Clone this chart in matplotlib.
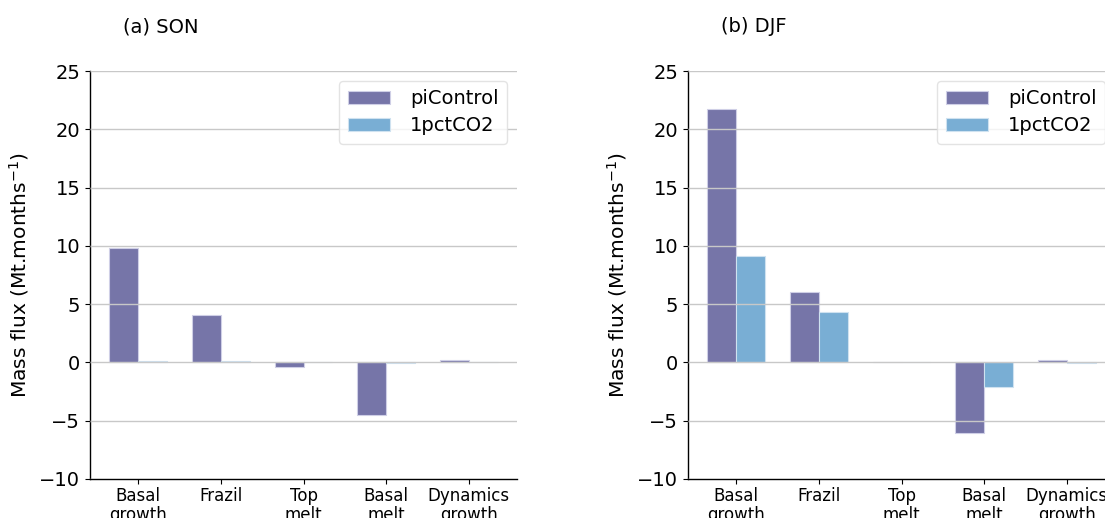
import numpy as np
import matplotlib
matplotlib.use('Agg')
import matplotlib.pyplot as plt

categories = ["Basal\ngrowth", "Frazil", "Top\nmelt", "Basal\nmelt", "Dynamics\ngrowth"]
series_names = ["piControl", "1pctCO2"]

# SON values (Mt.months^-1)
son_picontrol = [9.8, 4.1, -0.35, -4.5, 0.25]
son_1pctco2 = [0.1, 0.15, 0.0, -0.05, 0.0]

# DJF values
djf_picontrol = [21.7, 6.05, 0.0, -6.05, 0.25]
djf_1pctco2 = [9.15, 4.35, 0.0, -2.1, -0.05]

panel_titles = ["(a) SON", "(b) DJF"]
colors = ["#7675a8", "#79aed4"]

fig = plt.figure(figsize=(11.05, 5.18), dpi=100)
W, H = 1105, 518
ax_a = fig.add_axes([90 / W, (H - 479) / H, 427 / W, 408 / H])
ax_b = fig.add_axes([688 / W, (H - 479) / H, 427 / W, 408 / H])

width = 0.35
x = np.arange(len(categories))

for ax, title, pi, co2 in [(ax_a, panel_titles[0], son_picontrol, son_1pctco2),
                           (ax_b, panel_titles[1], djf_picontrol, djf_1pctco2)]:
    ax.bar(x - width / 2, pi, width, color=colors[0], edgecolor="#cfcfe6",
           linewidth=0.8, label=series_names[0], zorder=1)
    ax.bar(x + width / 2, co2, width, color=colors[1], edgecolor="#cfe2f0",
           linewidth=0.8, label=series_names[1], zorder=1)
    ax.set_ylim(-10, 25)
    ax.set_yticks(np.arange(-10, 26, 5))
    ax.set_xticks(x)
    ax.set_xticklabels(categories, fontsize=12, linespacing=1.05)
    ax.tick_params(axis='y', labelsize=14, length=3.5, width=0.8)
    ax.tick_params(axis='x', length=3.5, width=0.8, pad=2.5)
    ax.yaxis.grid(True, color="#c8c8c8", linewidth=1.0, zorder=2)
    ax.set_axisbelow(False)
    for s in ["top", "right"]:
        ax.spines[s].set_visible(False)
    for s in ["left", "bottom"]:
        ax.spines[s].set_color("black")
        ax.spines[s].set_linewidth(1.0)
    ax.set_ylabel(r"Mass flux (Mt.months$^{-1}$)", fontsize=14.6, labelpad=6)
    ax.text(0.077, 1.108, title, transform=ax.transAxes, fontsize=14,
            ha="left", va="center")
    leg = ax.legend(loc="upper right", fontsize=14, frameon=True,
                    handlelength=2.2, borderpad=0.45, labelspacing=0.4,
                    handletextpad=1.0)
    leg.get_frame().set_edgecolor("#dddddd")

fig.savefig("out.png", dpi=100)
